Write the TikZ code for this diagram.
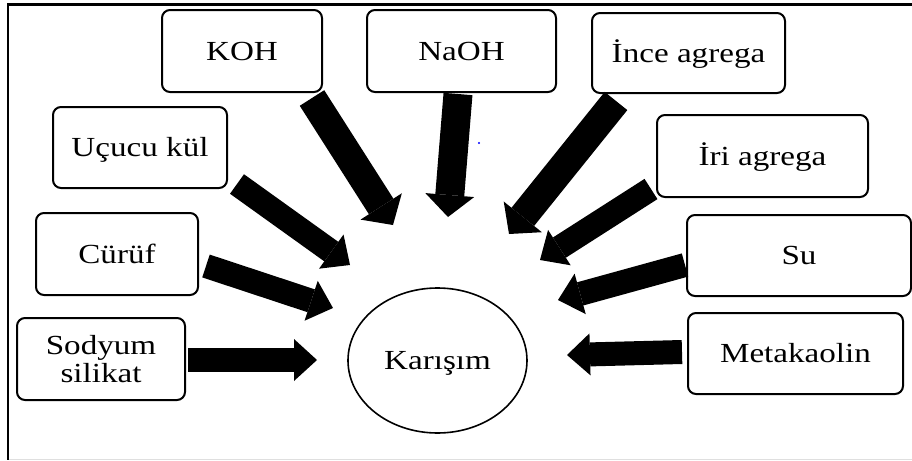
\documentclass[tikz,border=0pt]{standalone}
\usepackage{fontspec}
\newfontfamily\fnt[FakeStretch=1.2]{Liberation Serif}
\usetikzlibrary{shapes.geometric,arrows.meta}
\begin{document}
\begin{tikzpicture}[x=0.5pt,y=-0.5pt,
  box/.style={draw, line width=1pt, rounded corners=4pt, inner sep=0pt,
    font=\fnt\fontsize{13.8}{14}\selectfont, align=center, minimum height=41pt},
  oneline/.style={text height=9.1pt, text depth=0pt},
  bigA/.style={line width=14.5pt, -{Triangle[width=24.5pt,length=11pt,line width=0pt]}},
  bigB/.style={line width=12pt, -{Triangle[width=21pt,length=11.5pt,line width=0pt]}},
]
\useasboundingbox (0,0) rectangle (912,461);
\fill[white] (0,0) rectangle (912,461);
% frame
\draw[gray!25, line width=0.8pt] (8,459.5) -- (912,459.5);
\draw[line width=1.1pt] (8,459.5) -- (8,4.5) -- (912,4.5);

% boxes
\node[box, oneline, minimum width=80pt] (koh) at (242,51) {KOH};
\node[box, oneline, minimum width=94.5pt] (naoh) at (461.5,51) {NaOH};
\node[box, oneline, minimum width=96.5pt, minimum height=40pt] (ince) at (688.5,53) {İnce agrega};
\node[box, oneline, minimum width=87pt, minimum height=40.5pt] (ucucu) at (140,147.5) {Uçucu kül};
\node[box, oneline, minimum width=105.5pt] (iri) at (762.5,156) {İri agrega};
\node[box, oneline, minimum width=81pt] (curuf) at (117,254) {Cürüf};
\node[box, oneline, minimum width=112pt, minimum height=40.5pt] (su) at (799,255.5) {Su};
\node[box, minimum width=84pt] (sodyum) at (101,359) {Sodyum\\silikat};
\node[box, oneline, minimum width=107.5pt, minimum height=40.5pt] (meta) at (795.5,353.5) {Metakaolin};
\node[draw, ellipse, line width=0.8pt, inner sep=0pt, oneline,
  font=\fnt\fontsize{13.8}{14}\selectfont,
  minimum width=89.5pt, minimum height=72.5pt] (mix) at (437.5,360.5) {Karışım};

% arrow ends
\coordinate (kohT) at (312,98);   \coordinate (kohH) at (393,225);
\coordinate (naohT) at (458,94);  \coordinate (naohH) at (448,217);
\coordinate (inceT) at (616,101); \coordinate (inceH) at (509,234);
\coordinate (iriT) at (651,189);  \coordinate (iriH) at (540,260);
\coordinate (suT) at (685,265);   \coordinate (suH) at (558,300);
\coordinate (metaT) at (682,352); \coordinate (metaH) at (567,355);
\coordinate (ucucuT) at (237,184);\coordinate (ucucuH) at (350,265);
\coordinate (curufT) at (206,266);\coordinate (curufH) at (333,308);
\coordinate (sodyumT) at (188,360);\coordinate (sodyumH) at (317,360);

\draw[bigA] (kohT) -- (kohH);
\draw[bigA] (naohT) -- (naohH);
\draw[bigA] (inceT) -- (inceH);
\draw[bigB] (iriT) -- (iriH);
\draw[bigB] (suT) -- (suH);
\draw[bigB] (metaT) -- (metaH);
\draw[bigB] (ucucuT) -- (ucucuH);
\draw[bigB] (curufT) -- (curufH);
\draw[bigB] (sodyumT) -- (sodyumH);

% small blue dot
\fill[blue] (479,143) circle (0.6pt);
\end{tikzpicture}
\end{document}
